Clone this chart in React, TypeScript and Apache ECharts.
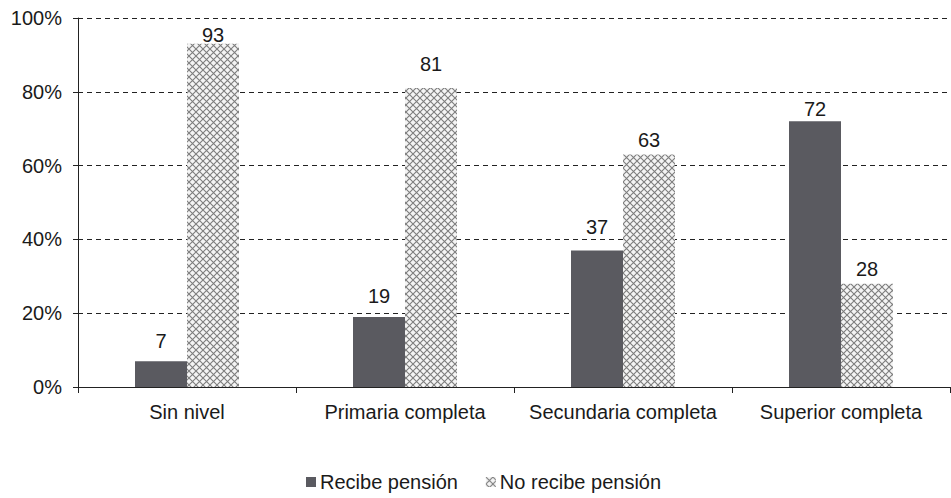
import React, { useEffect, useRef } from "react";
import * as echarts from "echarts";

const categories = ["Sin nivel", "Primaria completa", "Secundaria completa", "Superior completa"];
const recibe = [7, 19, 37, 72];
const noRecibe = [93, 81, 63, 28];
const seriesNames = ["Recibe pensión", "No recibe pensión"];

// label gap above each bar (style only)
const recibeLabelGap = [10, 11, 13, 2];
const noRecibeLabelGap = [-1, 14, 5, 5];

const FONT = "Liberation Sans, Arial, sans-serif";

function makePattern(): HTMLCanvasElement {
  const c = document.createElement("canvas");
  c.width = 7;
  c.height = 7;
  const ctx = c.getContext("2d")!;
  ctx.fillStyle = "#f4f4f4";
  ctx.fillRect(0, 0, 7, 7);
  ctx.strokeStyle = "#7d7d7d";
  ctx.lineWidth = 1.1;
  ctx.beginPath();
  ctx.moveTo(0, 0);
  ctx.lineTo(7, 7);
  ctx.moveTo(7, 0);
  ctx.lineTo(0, 7);
  ctx.stroke();
  return c;
}

export default function App() {
  const ref = useRef<HTMLDivElement>(null);
  useEffect(() => {
    const chart = echarts.init(ref.current!, null, { renderer: "svg" });
    const pattern = { image: makePattern(), repeat: "repeat" as const };
    const labelStyle = {
      show: true,
      position: "top" as const,
      fontFamily: FONT,
      fontSize: 20,
      color: "#1a1a1a",
      distance: 2,
    };
    const withGaps = (vals: number[], gaps: number[]) =>
      vals.map((v, i) => ({ value: v, label: { distance: gaps[i] } }));
    chart.setOption({
      animation: false,
      backgroundColor: "#fff",
      grid: { left: 78, right: 1, top: 18, bottom: 111 },
      legend: {
        top: 468,
        left: 302,
        padding: 4,
        itemWidth: 10,
        itemHeight: 10,
        itemGap: 28,
        icon: "rect",
        textStyle: { fontFamily: FONT, fontSize: 20, color: "#1a1a1a", padding: [0, 0, 0, -1] },
        data: seriesNames,
      },
      xAxis: {
        type: "category",
        data: categories,
        axisLine: { lineStyle: { color: "#222", width: 1 } },
        axisTick: { show: true, alignWithLabel: false, length: 6, lineStyle: { color: "#222" } },
        axisLabel: {
          interval: 0,
          fontFamily: FONT,
          fontSize: 20,
          color: "#1a1a1a",
          margin: 15,
        },
      },
      yAxis: {
        type: "value",
        min: 0,
        max: 100,
        interval: 20,
        axisLine: { show: true, lineStyle: { color: "#222", width: 1 } },
        axisTick: { show: true, inside: false, length: 5, lineStyle: { color: "#222" } },
        axisLabel: {
          formatter: "{value}%",
          fontFamily: FONT,
          fontSize: 20,
          color: "#1a1a1a",
          margin: 16,
        },
        splitLine: { show: true, lineStyle: { color: "#222", type: [5, 4], width: 1 } },
      },
      series: [
        {
          name: seriesNames[0],
          type: "bar",
          data: withGaps(recibe, recibeLabelGap),
          barWidth: 52,
          barGap: "0%",
          itemStyle: { color: "#5a5a60" },
          label: labelStyle,
        },
        {
          name: seriesNames[1],
          type: "bar",
          data: withGaps(noRecibe, noRecibeLabelGap),
          barWidth: 52,
          barGap: "0%",
          itemStyle: { color: pattern },
          label: labelStyle,
        },
      ],
    });
    return () => chart.dispose();
  }, []);
  return (
    <div
      ref={ref}
      style={{ position: "fixed", left: 0, top: 0, width: 951, height: 498 }}
    />
  );
}
